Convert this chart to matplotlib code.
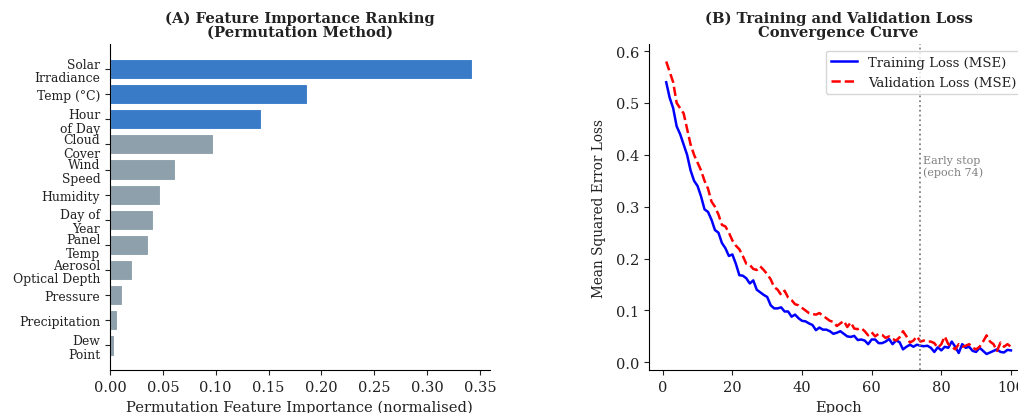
import matplotlib
matplotlib.use("Agg")
import matplotlib.pyplot as plt

plt.rcParams["font.family"] = ["DejaVu Serif"]
plt.rcParams["text.color"] = "#222222"
plt.rcParams["axes.labelcolor"] = "#222222"
plt.rcParams["xtick.color"] = "#222222"
plt.rcParams["ytick.color"] = "#222222"

# --- (A) feature importance data ---
features = ["Solar\nIrradiance", "Temp (°C)", "Hour\nof Day", "Cloud\nCover", "Wind\nSpeed",
            "Humidity", "Day of\nYear", "Panel\nTemp", "Aerosol\nOptical Depth", "Pressure",
            "Precipitation", "Dew\nPoint"]
importance = [0.342, 0.186, 0.143, 0.097, 0.0615, 0.047, 0.041, 0.0356, 0.0208, 0.011, 0.0066, 0.0035]
n_highlight = 3

# --- (B) loss curves ---
epochs = list(range(1, 101))
train_loss = [0.54, 0.51, 0.49, 0.455, 0.44, 0.42, 0.40, 0.37, 0.35, 0.34,
              0.32, 0.295, 0.29, 0.275, 0.255, 0.25, 0.23, 0.22, 0.205, 0.208,
              0.19, 0.168, 0.167, 0.162, 0.152, 0.158, 0.14, 0.135, 0.13, 0.126,
              0.11, 0.104, 0.104, 0.106, 0.098, 0.098, 0.088, 0.092, 0.085, 0.08,
              0.079, 0.075, 0.072, 0.062, 0.067, 0.063, 0.063, 0.06, 0.055, 0.057,
              0.06, 0.055, 0.05, 0.049, 0.051, 0.043, 0.044, 0.042, 0.035, 0.044,
              0.044, 0.037, 0.037, 0.04, 0.045, 0.035, 0.042, 0.039, 0.025, 0.03,
              0.034, 0.03, 0.034, 0.032, 0.031, 0.032, 0.028, 0.02, 0.029, 0.023,
              0.03, 0.028, 0.04, 0.03, 0.018, 0.035, 0.028, 0.03, 0.022, 0.02,
              0.028, 0.022, 0.016, 0.019, 0.022, 0.025, 0.02, 0.019, 0.024, 0.023]
val_loss = [0.58, 0.56, 0.54, 0.50, 0.49, 0.48, 0.45, 0.42, 0.40, 0.385,
            0.37, 0.35, 0.335, 0.31, 0.30, 0.285, 0.265, 0.262, 0.25, 0.235,
            0.225, 0.218, 0.205, 0.19, 0.188, 0.18, 0.178, 0.185, 0.178, 0.17,
            0.16, 0.145, 0.14, 0.13, 0.138, 0.125, 0.12, 0.112, 0.11, 0.105,
            0.10, 0.095, 0.093, 0.092, 0.095, 0.09, 0.085, 0.08, 0.078, 0.07,
            0.075, 0.08, 0.068, 0.077, 0.065, 0.064, 0.066, 0.06, 0.052, 0.058,
            0.05, 0.055, 0.053, 0.047, 0.05, 0.045, 0.042, 0.048, 0.06, 0.05,
            0.038, 0.042, 0.05, 0.04, 0.042, 0.04, 0.04, 0.037, 0.028, 0.035,
            0.05, 0.035, 0.03, 0.025, 0.035, 0.03, 0.032, 0.035, 0.028, 0.025,
            0.03, 0.04, 0.052, 0.04, 0.035, 0.022, 0.038, 0.03, 0.035, 0.03]
early_stop_epoch = 74

fig = plt.figure(figsize=(10.18, 4.14), dpi=100)
ax1 = fig.add_axes([0.108, 0.103, 0.373, 0.788])
ax2 = fig.add_axes([0.6375, 0.103, 0.3725, 0.788])

# (A)
colors = ["#3A7BC8" if i < n_highlight else "#8DA0AB" for i in range(len(features))]
ypos = list(range(len(features)))
ax1.barh(ypos, importance, height=0.8, color=colors, edgecolor="white", linewidth=0.8)
ax1.set_yticks(ypos)
ax1.set_yticklabels(features, fontsize=8.9, linespacing=1.08)
ax1.invert_yaxis()
ax1.set_xlabel("Permutation Feature Importance (normalised)", fontsize=10.6)
ax1.set_title("(A) Feature Importance Ranking\n(Permutation Method)", fontsize=10.6,
              fontweight="bold", linespacing=1.0)
ax1.tick_params(axis="x", labelsize=10.5)
for s in ["top", "right"]:
    ax1.spines[s].set_visible(False)

# (B)
ax2.plot(epochs, train_loss, color="blue", lw=1.8, label="Training Loss (MSE)")
ax2.plot(epochs, val_loss, color="red", lw=1.8, ls="--", label="Validation Loss (MSE)")
ax2.axvline(early_stop_epoch, color="gray", ls=":", lw=1.3)
ax2.text(early_stop_epoch + 0.8, 0.40, "Early stop\n(epoch 74)", fontsize=8, color="gray",
         va="top", ha="left")
ax2.set_ylim(-0.0155, 0.6135)
ax2.set_xlabel("Epoch", fontsize=10.6)
ax2.set_ylabel("Mean Squared Error Loss", fontsize=9.8, labelpad=7)
ax2.set_title("(B) Training and Validation Loss\nConvergence Curve", fontsize=10.6,
              fontweight="bold", linespacing=1.0)
ax2.tick_params(labelsize=10.5)
ax2.legend(loc="upper right", fontsize=9.5)
for s in ["top", "right"]:
    ax2.spines[s].set_visible(False)

fig.savefig("out.png", dpi=100)
